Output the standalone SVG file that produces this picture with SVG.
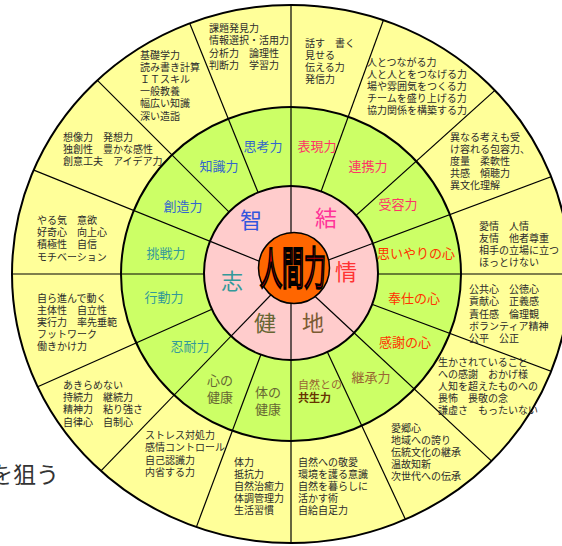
<svg xmlns="http://www.w3.org/2000/svg" width="562" height="546" viewBox="0 0 562 546">
<style>
text{font-family:"Noto Sans CJK JP","Noto Sans",sans-serif}
.o{font-size:10px;fill:#2b2b2b}
.g{font-size:13px;text-anchor:middle}
.p{font-size:22px;text-anchor:middle}
.ring{stroke:#000;stroke-width:2}
.div line{stroke:#000;stroke-width:1.2}
.blue{fill:#3366CC}
.pk{fill:#FF3366}
.red{fill:#FF3300}
.brn{fill:#996633}
.olv{fill:#666633}
.teal{fill:#339999}
</style>
<defs>
<clipPath id="clip"><ellipse cx="291" cy="274" rx="279" ry="269"/></clipPath>
</defs>

<g id="rings">
<ellipse class="ring" cx="291" cy="274" rx="279" ry="269" fill="#FFFF99"/>
<ellipse class="ring" cx="291" cy="274" rx="170" ry="167" fill="#CCFF66"/>
</g>

<g id="connectors" class="div" clip-path="url(#clip)">
<line x1="291" y1="274" x2="291" y2="-26"/>
<line x1="291" y1="274" x2="393.6" y2="-7.9"/>
<line x1="291" y1="274" x2="513.9" y2="73.3"/>
<line x1="291" y1="274" x2="572.0" y2="168.9"/>
<line x1="291" y1="274" x2="591" y2="274"/>
<line x1="291" y1="274" x2="572.0" y2="379.1"/>
<line x1="291" y1="274" x2="510.4" y2="478.6"/>
<line x1="291" y1="274" x2="417.8" y2="545.9"/>
<line x1="291" y1="274" x2="291" y2="574"/>
<line x1="291" y1="274" x2="185.9" y2="555.0"/>
<line x1="291" y1="274" x2="82.6" y2="489.8"/>
<line x1="291" y1="274" x2="16.9" y2="396.0"/>
<line x1="291" y1="274" x2="-9" y2="274"/>
<line x1="291" y1="274" x2="12.8" y2="161.6"/>
<line x1="291" y1="274" x2="78.9" y2="61.9"/>
<line x1="291" y1="274" x2="178.6" y2="-4.2"/>
</g>

<g id="core">
<ellipse class="ring" cx="291" cy="273" rx="87" ry="87" fill="#FFCCCC"/>
<g class="div">
<line x1="291" y1="274" x2="291" y2="187"/>
<line x1="291" y1="274" x2="372.5" y2="243.5"/>
<line x1="291" y1="274" x2="354.6" y2="333.3"/>
<line x1="291" y1="274" x2="291" y2="361"/>
<line x1="291" y1="274" x2="230.6" y2="336.6"/>
<line x1="291" y1="274" x2="210.3" y2="241.4"/>
</g>
<circle cx="294" cy="268" r="35.5" fill="#FF6600" stroke="#000" stroke-width="1.5"/>
<text transform="translate(293,268) scale(1,2.05)" x="0" y="8.3" font-size="22" text-anchor="middle" fill="#CC0000" stroke="#000" stroke-width="1.3" style="font-family:'Noto Sans CJK JP',sans-serif">人間力</text>
</g>

<g id="pillars">
<text class="p" x="251" y="228" fill="#3355DD">智</text>
<text class="p" x="326" y="226" fill="#FF3399">結</text>
<text class="p" x="346" y="280" fill="#FF3333">情</text>
<text class="p" x="232" y="289" fill="#339999">志</text>
<text class="p" x="265" y="331" fill="#666633">健</text>
<text class="p" x="313" y="331" fill="#7B5B33">地</text>
</g>

<g id="abilities">
<text class="g blue" x="263" y="151">思考力</text>
<text class="g pk" x="317" y="151">表現力</text>
<text class="g blue" x="219" y="171">知識力</text>
<text class="g pk" x="368" y="171">連携力</text>
<text class="g blue" x="183" y="211">創造力</text>
<text class="g pk" x="398" y="209">受容力</text>
<text class="g teal" x="166" y="258">挑戦力</text>
<text class="g red" x="416" y="257.5" font-size="12.3">思いやりの心</text>
<text class="g teal" x="164" y="302">行動力</text>
<text class="g red" x="414" y="303">奉仕の心</text>
<text class="g teal" x="190" y="351">忍耐力</text>
<text class="g red" x="405" y="347">感謝の心</text>
<text class="g brn" x="371" y="382">継承力</text>
<text class="g olv" x="220" y="385" font-size="12.5">心の<tspan x="220" dy="16.5">健康</tspan></text>
<text class="g olv" x="268" y="397" font-size="12.5">体の<tspan x="268" dy="16.5">健康</tspan></text>
<text x="298" y="389" font-size="11" fill="#996633">自然との</text>
<text x="298" y="402" font-size="11" font-weight="bold" fill="#663300">共生力</text>
</g>

<g id="details">
<text class="o" x="140" y="59"><tspan x="140">基礎学力</tspan><tspan x="140" dy="12.1">読み書き計算</tspan><tspan x="140" dy="12.1">ＩＴスキル</tspan><tspan x="140" dy="12.1">一般教養</tspan><tspan x="140" dy="12.1">幅広い知識</tspan><tspan x="140" dy="12.1">深い造詣</tspan></text>
<text class="o" x="209" y="32"><tspan x="209">課題発見力</tspan><tspan x="209" dy="12.3">情報選択・活用力</tspan><tspan x="209" dy="12.3">分析力　論理性</tspan><tspan x="209" dy="12.3">判断力　学習力</tspan></text>
<text class="o" x="305" y="47"><tspan x="305">話す　書く</tspan><tspan x="305" dy="12">見せる</tspan><tspan x="305" dy="12">伝える力</tspan><tspan x="305" dy="12">発信力</tspan></text>
<text class="o" x="367" y="66"><tspan x="367">人とつながる力</tspan><tspan x="367" dy="12">人と人とをつなげる力</tspan><tspan x="367" dy="12">場や雰囲気をつくる力</tspan><tspan x="367" dy="12">チームを盛り上げる力</tspan><tspan x="367" dy="12">協力関係を構築する力</tspan></text>
<text class="o" x="450" y="141"><tspan x="450">異なる考えも受</tspan><tspan x="450" dy="12">け容れる包容力、</tspan><tspan x="450" dy="12">度量　柔軟性</tspan><tspan x="450" dy="12">共感　傾聴力</tspan><tspan x="450" dy="12">異文化理解</tspan></text>
<text class="o" x="479" y="230"><tspan x="479">愛情　人情</tspan><tspan x="479" dy="12">友情　他者尊重</tspan><tspan x="479" dy="12">相手の立場に立つ</tspan><tspan x="479" dy="12">ほっとけない</tspan></text>
<text class="o" x="469" y="293"><tspan x="469">公共心　公徳心</tspan><tspan x="469" dy="12.3">貢献心　正義感</tspan><tspan x="469" dy="12.3">責任感　倫理観</tspan><tspan x="469" dy="12.3">ボランティア精神</tspan><tspan x="469" dy="12.3">公平　公正</tspan></text>
<text class="o" x="438" y="366"><tspan x="438">生かされていること</tspan><tspan x="438" dy="12">への感謝　おかげ様</tspan><tspan x="438" dy="12">人知を超えたものへの</tspan><tspan x="438" dy="12">畏怖　畏敬の念</tspan><tspan x="438" dy="12">謙虚さ　もったいない</tspan></text>
<text class="o" x="391" y="432"><tspan x="391">愛郷心</tspan><tspan x="391" dy="12.1">地域への誇り</tspan><tspan x="391" dy="12.1">伝統文化の継承</tspan><tspan x="391" dy="12.1">温故知新</tspan><tspan x="391" dy="12.1">次世代への伝承</tspan></text>
<text class="o" x="298" y="466"><tspan x="298">自然への敬愛</tspan><tspan x="298" dy="12">環境を護る意識</tspan><tspan x="298" dy="12">自然を暮らしに</tspan><tspan x="298" dy="12">活かす術</tspan><tspan x="298" dy="12">自給自足力</tspan></text>
<text class="o" x="234" y="466"><tspan x="234">体力</tspan><tspan x="234" dy="11.9">抵抗力</tspan><tspan x="234" dy="11.9">自然治癒力</tspan><tspan x="234" dy="11.9">体調管理力</tspan><tspan x="234" dy="11.9">生活習慣</tspan></text>
<text class="o" x="145" y="439"><tspan x="145">ストレス対処力</tspan><tspan x="145" dy="12.4">感情コントロール</tspan><tspan x="145" dy="12.4">自己認識力</tspan><tspan x="145" dy="12.4">内省する力</tspan></text>
<text class="o" x="63" y="389"><tspan x="63">あきらめない</tspan><tspan x="63" dy="12.2">持続力　継続力</tspan><tspan x="63" dy="12.2">精神力　粘り強さ</tspan><tspan x="63" dy="12.2">自律心　自制心</tspan></text>
<text class="o" x="37" y="302"><tspan x="37">自ら進んで動く</tspan><tspan x="37" dy="12.1">主体性　自立性</tspan><tspan x="37" dy="12.1">実行力　率先垂範</tspan><tspan x="37" dy="12.1">フットワーク</tspan><tspan x="37" dy="12.1">働きかけ力</tspan></text>
<text class="o" x="37" y="224"><tspan x="37">やる気　意欲</tspan><tspan x="37" dy="12.2">好奇心　向上心</tspan><tspan x="37" dy="12.2">積極性　自信</tspan><tspan x="37" dy="12.2">モチベーション</tspan></text>
<text class="o" x="63" y="141"><tspan x="63">想像力　発想力</tspan><tspan x="63" dy="12.2">独創性　豊かな感性</tspan><tspan x="63" dy="12.2">創意工夫　アイデア力</tspan></text>
</g>

<text x="-10" y="483" font-size="23" fill="#333">を狙う</text>
</svg>
